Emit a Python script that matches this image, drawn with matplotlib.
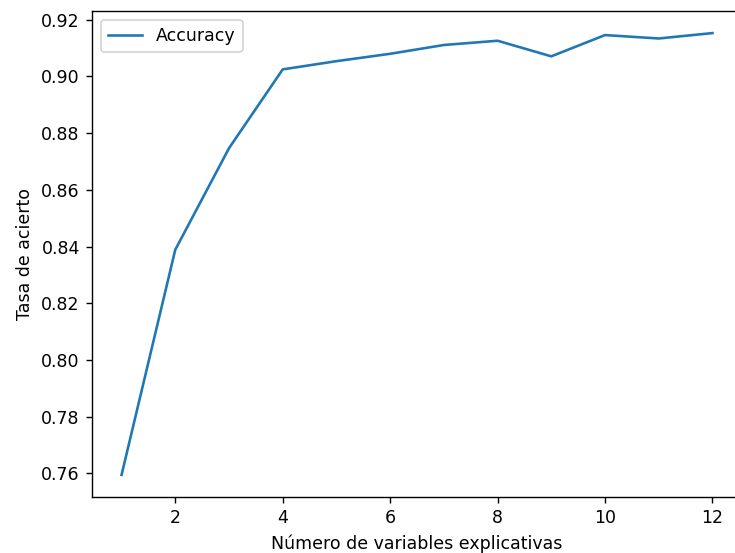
import matplotlib
matplotlib.use("Agg")
import matplotlib.pyplot as plt

n_vars = [1, 2, 3, 4, 5, 6, 7, 8, 9, 10, 11, 12]
accuracy = [0.7595, 0.8389, 0.8747, 0.9025, 0.9054, 0.9080, 0.9111, 0.9126, 0.9071, 0.9146, 0.9134, 0.9153]

DPI = 125
fig = plt.figure(figsize=(735/DPI, 553/DPI), dpi=DPI)
ax = fig.add_axes([92/735, 1-497/553, (742-92)/735, (497-11)/553])
ax.plot(n_vars, accuracy, label="Accuracy", color="#1f77b4")
ax.set_xlabel("Número de variables explicativas")
ax.set_ylabel("Tasa de acierto")
ax.set_xticks([2, 4, 6, 8, 10, 12])
ax.set_yticks([0.76, 0.78, 0.80, 0.82, 0.84, 0.86, 0.88, 0.90, 0.92])
ax.legend(loc="upper left")
fig.savefig("out.png", dpi=DPI)
